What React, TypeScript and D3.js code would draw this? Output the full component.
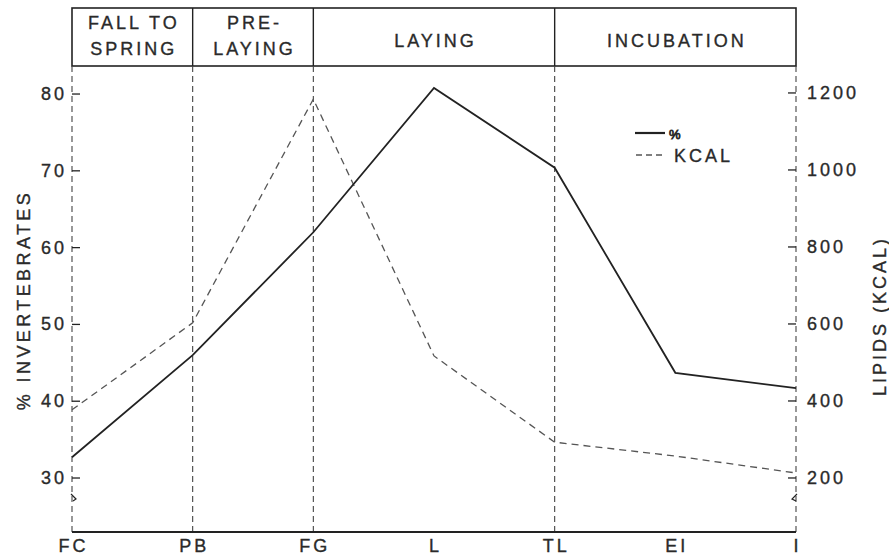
import React from "react";
import * as d3 from "d3";

const categories = ["FC", "PB", "FG", "L", "TL", "EI", "I"];
const pctValues = [32.7, 46.0, 62.0, 80.8, 70.4, 43.7, 41.7];
const kcalValues = [377, 603, 1184, 517, 293, 257, 213];
const leftTicks = [30, 40, 50, 60, 70, 80];
const rightTicks = [200, 400, 600, 800, 1000, 1200];
const phases = [
  { from: "FC", to: "PB", lines: ["FALL TO", "SPRING"] },
  { from: "PB", to: "FG", lines: ["PRE-", "LAYING"] },
  { from: "FG", to: "TL", lines: ["LAYING"] },
  { from: "TL", to: "I", lines: ["INCUBATION"] },
];
const dividerCats = ["FC", "PB", "FG", "TL", "I"];

const W = 889;
const H = 556;
const left = 72;
const right = 796;
const plotTop = 66;
const plotBottom = 532;
const headTop = 8;

const ink = "#222";
const textInk = "#2a2a2a";
const font = "'Liberation Sans', Arial, Helvetica, sans-serif";

export default function App() {
  const x = d3.scalePoint<string>().domain(categories).range([left, right]);
  const yL = d3.scaleLinear().domain([22.97, 83.65]).range([plotBottom, plotTop]);
  const yR = d3.scaleLinear().domain([59.7, 1270]).range([plotBottom, plotTop]);

  const pctLine = d3
    .line<number>()
    .x((_, i) => x(categories[i]) as number)
    .y((d) => yL(d));
  const kcalLine = d3
    .line<number>()
    .x((_, i) => x(categories[i]) as number)
    .y((d) => yR(d));

  const txt = {
    fontFamily: font,
    fontSize: 18,
    fill: textInk,
    stroke: textInk,
    strokeWidth: 0.35,
    letterSpacing: "3px",
  } as React.CSSProperties;

  return (
    <svg
      width={W}
      height={H}
      viewBox={`0 0 ${W} ${H}`}
      style={{ position: "absolute", left: 0, top: 0, background: "#fff" }}
    >
      <rect x={0} y={0} width={W} height={H} fill="#fff" />
      {/* header box */}
      <rect
        x={left}
        y={headTop}
        width={right - left}
        height={plotTop - headTop}
        fill="none"
        stroke={ink}
        strokeWidth={1.6}
      />
      {phases.map((p, i) => {
        const x0 = x(p.from) as number;
        const x1 = x(p.to) as number;
        const cx = (x0 + x1) / 2;
        return (
          <g key={i}>
            {i > 0 && (
              <line x1={x0} x2={x0} y1={headTop} y2={plotTop} stroke={ink} strokeWidth={1.4} />
            )}
            {p.lines.length === 2 ? (
              <>
                <text x={cx + 1.5} y={29} textAnchor="middle" style={txt}>
                  {p.lines[0]}
                </text>
                <text x={cx + 1.5} y={55} textAnchor="middle" style={txt}>
                  {p.lines[1]}
                </text>
              </>
            ) : (
              <text x={cx + 1.5} y={47} textAnchor="middle" style={txt}>
                {p.lines[0]}
              </text>
            )}
          </g>
        );
      })}

      {/* vertical dashed dividers */}
      {dividerCats.map((c) => (
        <line
          key={c}
          x1={x(c)}
          x2={x(c)}
          y1={plotTop}
          y2={plotBottom}
          stroke="#444"
          strokeWidth={1.1}
          strokeDasharray="6,4"
        />
      ))}

      {/* bottom axis */}
      <line x1={left} x2={right} y1={plotBottom} y2={plotBottom} stroke={ink} strokeWidth={1.8} />
      {categories.map((c) => (
        <text key={c} x={(x(c) as number) + 1.5} y={552} textAnchor="middle" style={txt}>
          {c}
        </text>
      ))}

      {/* left axis ticks */}
      {leftTicks.map((t) => (
        <g key={t}>
          <line x1={left} x2={left + 8} y1={yL(t)} y2={yL(t)} stroke={ink} strokeWidth={1.3} />
          <text x={67} y={yL(t) + 6} textAnchor="end" style={txt}>
            {t}
          </text>
        </g>
      ))}
      {/* right axis ticks */}
      {rightTicks.map((t) => (
        <g key={t}>
          <line x1={right - 8} x2={right} y1={yR(t)} y2={yR(t)} stroke={ink} strokeWidth={1.3} />
          <text x={807} y={yR(t) + 6} textAnchor="start" style={txt}>
            {t}
          </text>
        </g>
      ))}

      {/* axis break marks */}
      <path d={`M${left - 1},${494} L${left + 4},${499} L${left + 1},${501}`} fill="none" stroke={ink} strokeWidth={1.2} />
      <path d={`M${right + 1},${494} L${right - 4},${499} L${right},${501}`} fill="none" stroke={ink} strokeWidth={1.2} />

      {/* axis titles */}
      <text
        transform={`translate(30, 300) rotate(-90)`}
        textAnchor="middle"
        style={{ ...txt, letterSpacing: "3.4px" }}
      >
        % INVERTEBRATES
      </text>
      <text
        transform={`translate(886, 316) rotate(-90)`}
        textAnchor="middle"
        style={txt}
      >
        LIPIDS (KCAL)
      </text>

      {/* data lines */}
      <path
        d={kcalLine(kcalValues) || ""}
        fill="none"
        stroke="#555"
        strokeWidth={1.3}
        strokeDasharray="7,5"
      />
      <path d={pctLine(pctValues) || ""} fill="none" stroke={ink} strokeWidth={1.8} />

      {/* legend */}
      <line x1={635} x2={665} y1={133} y2={133} stroke={ink} strokeWidth={2.2} />
      <text x={669} y={139} style={{ ...txt, fontSize: 13, strokeWidth: 0.8, letterSpacing: "0px" }}>
        %
      </text>
      <line x1={636} x2={662} y1={155} y2={155} stroke="#555" strokeWidth={1.3} strokeDasharray="6,4" />
      <text x={674} y={162} style={txt}>
        KCAL
      </text>
    </svg>
  );
}
